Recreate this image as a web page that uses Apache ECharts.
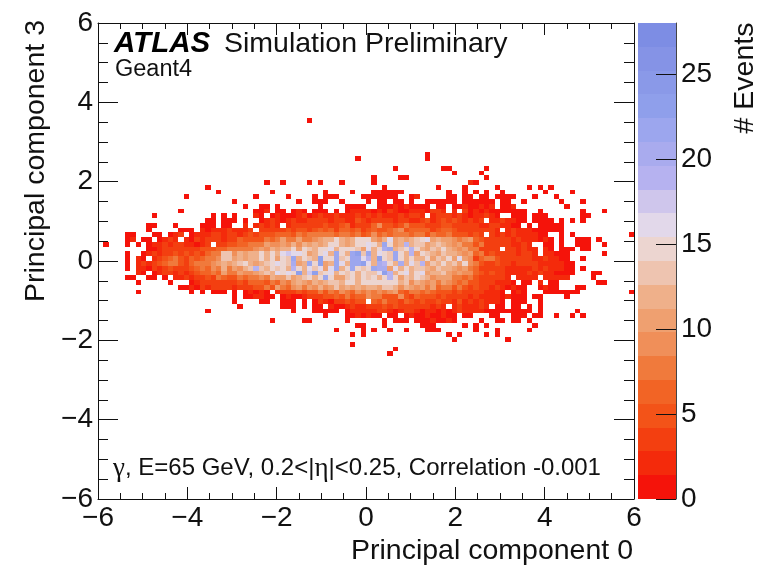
<!DOCTYPE html>
<html><head><meta charset="utf-8">
<style>html,body{margin:0;padding:0;background:#fff}#c{width:757px;height:565px}</style>
<script src="https://cdn.jsdelivr.net/npm/echarts@6/dist/echarts.min.js"></script>
</head><body><div id="c"></div>
<script>
// counts per bin, base-36, one string per row from top; "." = empty bin
const firstRow = 20, binW = 0.12, axisMin = -6, axisMax = 6;
const rows = [
".......... .......... .......... .........1 .......... .......... .......... .......... .......... ..........",
"","","","","","",
".......... .......... .......... .......... .......... .......... .1........ .......... .......... ..........",
".......... .......... .......... .......... ........1. .......... .1........ .......... .......... ..........",
"",
".......... .......... .......... .......... .......... .....1.... ....11.... ..1....... .......... ..........",
".......... .......... .......... .......... .......... .......... ......1... .1........ .......... ..........",
".......... .......... .......... .......... .......... .1....11.. .......... ..1....... .......... ..........",
".......... .......... .......... .1..1....1 .1...1.... .1........ .........2 1......... .......... ..........",
".......... .......... 1......... .......... .......... ...1...... ...1....1. ....1..... 1.1.1..... ..........",
".......... .......... ..1....... ..1....... ..1....1.. .111111... .....1..1. 1.1..1.... ...1....1. ..........",
".......... ......1... .........1 .....1.... 1.111....1 111111..12 .....11.11 .11.1111.. .1...1.... ..........",
".......... .......... .....1.... .......1.. 111..1.... 1.11.11.1. .111111.11 1111.11..1 ......1... 1.........",
".......... .......... .......1.. 11.1...... .1....1111 ..11121211 11.11.1121 1212.112.. .......1.. ..........",
".......... .....1.... .........1 12.11.121. 111.1.1222 2121321122 21332.2.31 2121111111 ..1....... 1...1.....",
".......... 1......... .1.1.1...2 1.12111231 2322322232 3232224234 2.23432321 22321..111 .111...... 11........",
".......... .......... 11.111.1.. 1232123223 3332332253 2443424322 3523545323 23.2232211 .1111.1.1. 1.........",
".........1 1...1....1 11.11..2.2 4232.23333 3354356243 3695535755 5433553343 322342211. 1.11111... ..........",
".........1 .....111.2 122232223. 3434353554 5656366563 5655679566 6645665333 43332.2322 2111111... ..........",
".....11... 11.123.122 2332332454 5556665767 7778678675 6967678867 7576675553 54.3232322 2211..1.1. .........1",
".....12.11 .1232.2132 3332346555 5767a78a78 9accfcacfe fa9cgacacd egacaa979a 6534333232 22121.1..1 11.1......",
".1...1.1.1 2232332212 3.34556677 7a99a9c9ca cacefcacff gecmfacjcd dacdca9a87 5734333223 2..11.1..1 11..1.....",
".........1 1233433345 5566777889 a9caccfaed cefgcfefda gceklcdfjf cadceca9a8 74333.3323 22.21.111. 11........",
".....1..12 3234545454 677dd9cacc ecfcghggfa cfgcmfclnd mcgfdmfcja fdcadcca9a 6735433323 32.22111.. ....1.....",
".....1.21. 2356754656 779ddacacc fceafdmcfd cnfemdfmmg jcnfdmfcfc cfadceaga9 3687543333 32232211.. 1.........",
".....1.232 3567753687 89acacdfcb cdfgedkacm fnacmgclln gckjfckcgd jadcfcdaf9 7544543233 332222211. ..........",
".....1.221 3245443567 697c8a9cdj dcfdfcjfcg dgagmcflfd flkkagcfcd dcadcca9a7 6444332222 232322211. 1.........",
".......21. 1233232456 676a87a99a cdcgegfnch ndfgcfdfcf ddgnjcfgcf gaccda9a99 6535332222 323221111. ..11......",
".....11..1 1.1.223234 5376557688 97caadacdf cflfaadfcf dfcfjfadcf dc9aaa7767 5433332.22 22.22222.. ..1.......",
".......1.. ...1...123 3434435466 65769 7aca9 cacddcfece fefefecd9c a9a7a97675 5433222 1.1 1.2.11.... ...11.....",
".......... .....11213 2343324435 575a769a7a 9c9adacaca ccaddc9ca9 a7a6775754 5332321211 ..1211...1 1.........",
".......1.. .......1.1 .111.1.121 21.2333545 5757697697 97979a6578 6765553533 332221.121 ...1111111 .........1",
".......... .......... .....1.112 211.121123 3355657566 9775559536 5553533332 3222212111 .11....1.. ..........",
".......... .......... .....1.... 11..111.1. 1321335355 .657553653 5335332523 232221.111 ..1....... ..........",
".......... .......... ......1... ....111.1. 11.2112322 3335353333 33232.2322 232.11.11. 1.1....... ..........",
".......... .......... 1......... ......1... 11111.1222 2233212332 1221212322 2211111111 1.1......1 ..........",
".......... .......... .......... .......... ..1...1121 211.11.121 1211211.11 ...11..111 .11..1..1. 1.........",
".......... .......... .......... ..1.....11 ......1... ...1.111.1 1121121... .1..11.11. 1......... ..........",
".......... .......... .......... .......... ........11 ...1...... 111.....1. 1.1....... .1........ ..........",
".......... .......... .......... .......... ....1....1 .1..1..1.. .111...... 1...1..... 1......... ..........",
".......... .......... .......... .......... .......1.1 .......... .....1.1.. ..1.1..... .......... ..........",
".......... .......... .......... .......... .......... .......... ......1... ......1... .......... ..........",
".......... .......... .......... .......... .......1.. .......... .......... .......... .......... ..........",
".......... .......... .......... .......... .......... .....1.... .......... .......... .......... ..........",
".......... .......... .......... .......... .......... ....1..... .......... .......... .......... .........."
];
const palette = ["#f5130a","#f42a0b","#f33f10","#f35318","#f26425","#f07a3c","#f08f59","#efa070","#efb08a","#eec4b0",
 "#ecd5d0","#e2d8ea","#cfc6ec","#b6b2f0","#a9abee","#9ca6ee","#8f9feb","#8a99e8","#8593e6","#7d8de4"];
const zMax = 28;
const zTicks = [0,5,10,15,20,25];
const xTitle = "Principal component 0", yTitle = "Principal component 3", zTitle = "# Events";

const cells = [];
rows.forEach((s,k)=>{
  const r = s.replace(/\s/g,"");
  for(let i=0;i<r.length && i<100;i++){
    if(r[i]===".")continue;
    const n=parseInt(r[i],36);
    cells.push([axisMin+i*binW, axisMax-(firstRow+k)*binW, n]);
  }
});
const bands = palette.map((c,b)=>[0, b*zMax/palette.length, (b+1)*zMax/palette.length]);
const colorOf = v => palette[Math.min(palette.length-1,Math.floor(v/(zMax/palette.length)))];

const F = "Liberation Sans", FS = 28.5, LS = 28, INK = "#111";
const line = {show:true,onZero:false,lineStyle:{color:INK,width:1}};
function val(o){return Object.assign({type:"value",min:axisMin,max:axisMax,interval:2,z:6,splitLine:{show:false},axisLine:line,
  minorSplitLine:{show:false}},o);}
const lab = {fontFamily:F,fontSize:LS,color:INK,formatter:v=>String(v).replace("-","\u2212")};
const opt = {
  animation:false,backgroundColor:"#fff",
  grid:[{left:98,top:23,width:536,height:476,outerBoundsMode:"none"},{left:638,top:23,width:38,height:476,outerBoundsMode:"none"}],
  xAxis:[
    val({gridIndex:0,position:"bottom",axisTick:{inside:true,length:12,lineStyle:{color:INK}},
      minorTick:{show:true,splitNumber:4,length:6,lineStyle:{color:INK}},axisLabel:Object.assign({margin:5},lab),
      name:xTitle,nameLocation:"middle",nameGap:37,nameTextStyle:{fontFamily:F,fontSize:FS,color:INK,padding:[0,0,0,252]}}),
    val({gridIndex:0,position:"top",axisTick:{inside:true,length:12,lineStyle:{color:INK}},
      minorTick:{show:true,splitNumber:4,length:6,lineStyle:{color:INK}},axisLabel:{show:false}}),
    {type:"value",gridIndex:1,min:0,max:1,show:false}
  ],
  yAxis:[
    val({gridIndex:0,position:"left",axisTick:{inside:true,length:20,lineStyle:{color:INK}},
      minorTick:{show:true,splitNumber:4,length:10,lineStyle:{color:INK}},axisLabel:Object.assign({margin:5},lab),
      name:yTitle,nameLocation:"middle",nameGap:47,nameRotate:90,nameTextStyle:{fontFamily:F,fontSize:FS,color:INK,padding:[0,0,0,200]}}),
    val({gridIndex:0,position:"right",axisTick:{inside:true,length:20,lineStyle:{color:INK}},
      minorTick:{show:true,splitNumber:4,length:10,lineStyle:{color:INK}},axisLabel:{show:false}}),
    {type:"value",gridIndex:1,position:"right",min:0,max:zMax,z:6,splitLine:{show:false},
      axisLine:{show:true,onZero:false,lineStyle:{color:"#444",width:1}},
      axisTick:{show:true,inside:true,length:20,customValues:zTicks,lineStyle:{color:INK}},
      axisLabel:{customValues:zTicks,margin:5,fontFamily:F,fontSize:LS,color:INK},
      name:zTitle,nameLocation:"middle",nameGap:55,nameRotate:90,nameTextStyle:{fontFamily:F,fontSize:FS,color:INK,padding:[0,0,0,366]}}
  ],
  series:[
    {type:"custom",xAxisIndex:0,yAxisIndex:0,data:cells,encode:{x:0,y:1},silent:true,clip:true,z:2,
     renderItem:(p,api)=>{
       const a=api.coord([api.value(0),api.value(1)]), b=api.coord([api.value(0)+binW,api.value(1)-binW]);
       const x=Math.round(a[0]),y=Math.round(a[1]);
       return {type:"rect",shape:{x,y,width:Math.round(b[0])-x,height:Math.round(b[1])-y},style:{fill:colorOf(api.value(2))}};
     }},
    {type:"custom",xAxisIndex:2,yAxisIndex:2,data:bands,encode:{y:[1,2]},silent:true,z:2,
     renderItem:(p,api)=>{
       const a=api.coord([0,api.value(2)]), b=api.coord([1,api.value(1)]);
       const y=Math.round(a[1]);
       return {type:"rect",shape:{x:a[0],y,width:b[0]-a[0],height:Math.round(b[1])-y},style:{fill:palette[p.dataIndex]}};
     }}
  ],
  graphic:[
    {type:"text",left:114,top:29,z:10,style:{text:"ATLAS",font:"italic bold 29.5px '"+F+"'",fill:"#000"}},
    {type:"text",left:224,top:30,z:10,style:{text:"Simulation Preliminary",font:"28.5px '"+F+"'",fill:INK}},
    {type:"text",left:115,top:58,z:10,style:{text:"Geant4",font:"23.5px '"+F+"'",fill:INK}},
    {type:"text",left:113,top:455,z:10,style:{
      text:"{s|\u03b3}, E=65 GeV, 0.2<|{s|\u03b7}|<0.25, Correlation -0.001",
      fontFamily:F,fontSize:24,fill:INK,
      rich:{s:{fontFamily:"Liberation Serif",fontSize:27,fill:INK}}}}
  ]
};
const chart = echarts.init(document.getElementById("c"),null,{renderer:"canvas",width:757,height:565});
chart.setOption(opt);
</script></body></html>
